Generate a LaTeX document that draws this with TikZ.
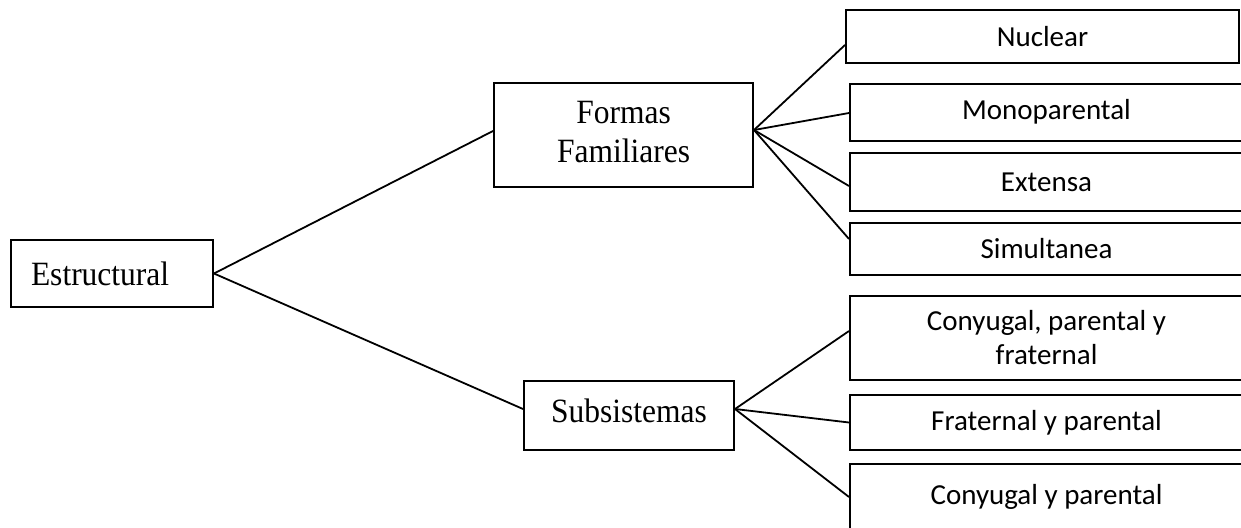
\documentclass[tikz,border=0pt]{standalone}
\usepackage{fontspec}
\setmainfont{Liberation Serif}
\newfontfamily\calfont{Carlito}
\newcommand{\tallserif}[1]{\scalebox{1}[1.08]{#1}}
\begin{document}
\begin{tikzpicture}[x=1pt,y=-1pt,
  box/.style={draw=black, line width=2pt, inner sep=0pt, anchor=center},
  serifbox/.style={box, font=\fontsize{31.5}{36}\selectfont},
  calbox/.style={box, font=\calfont\fontsize{29}{34}\selectfont, align=center},
  conn/.style={draw=black, line width=1.8pt}]
\useasboundingbox (0,0) rectangle (1241,527);
\clip (0,0) rectangle (1241,527);
\node[serifbox, minimum width=202pt, minimum height=67pt, text width=162pt, align=left, inner xsep=20pt] (est) at (112,273.5) {\tallserif{Estructural}};
\node[serifbox, minimum width=259pt, minimum height=104pt] (form) at (623.5,135) {\tallserif{\begin{tabular}{@{}c@{}}Formas\\Familiares\end{tabular}}};
\node[serifbox, minimum width=210pt, minimum height=69pt, text height=31pt, text depth=18pt] (sub) at (629,415.5) {\tallserif{Subsistemas}};
\node[calbox, minimum width=393pt, minimum height=53pt] (nuc) at (1042.5,36.5) {Nuclear};
\node[calbox, minimum width=393pt, minimum height=57pt] (mono) at (1046.5,112) {Monoparental};
\node[calbox, minimum width=393pt, minimum height=58pt] (ext) at (1046.5,182) {Extensa};
\node[calbox, minimum width=393pt, minimum height=52pt] (sim) at (1046.5,249) {Simultanea};
\node[calbox, minimum width=393pt, minimum height=84pt] (cpf) at (1046.5,338) {Conyugal, parental y\\fraternal};
\node[calbox, minimum width=393pt, minimum height=55pt] (fyp) at (1046.5,422.5) {Fraternal y parental};
\node[calbox, minimum width=393pt, minimum height=66pt] (cyp) at (1046.5,497) {Conyugal y parental};
\draw[conn] (est.east) -- ([yshift=4pt]form.west);
\draw[conn] (est.east) -- ([yshift=6.5pt]sub.west);
\draw[conn] ([yshift=5pt]form.east) -- ([yshift=-8.5pt]nuc.west);
\draw[conn] ([yshift=5pt]form.east) -- ([yshift=-1pt]mono.west);
\draw[conn] ([yshift=5pt]form.east) -- ([yshift=-4pt]ext.west);
\draw[conn] ([yshift=5pt]form.east) -- ([yshift=10pt]sim.west);
\draw[conn] ([yshift=6.5pt]sub.east) -- ([yshift=7pt]cpf.west);
\draw[conn] ([yshift=6.5pt]sub.east) -- (fyp.west);
\draw[conn] ([yshift=6.5pt]sub.east) -- (cyp.west);
\end{tikzpicture}
\end{document}
